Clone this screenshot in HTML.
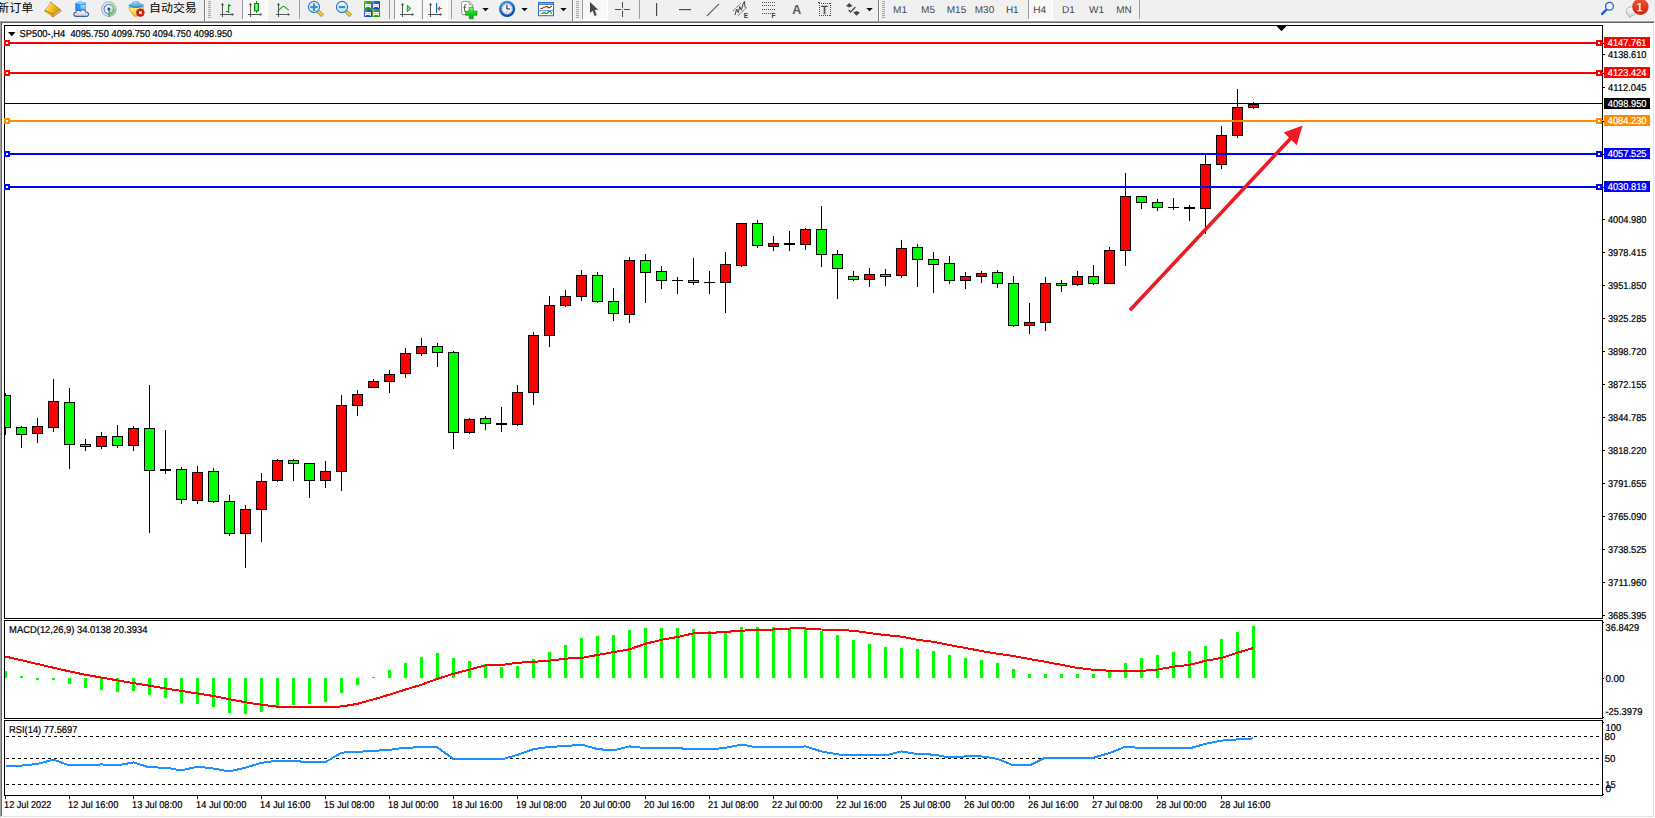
<!DOCTYPE html>
<html lang="zh"><head><meta charset="utf-8"><title>SP500-,H4</title>
<style>
html,body{margin:0;padding:0;background:#fff;}
body{width:1655px;height:818px;overflow:hidden;position:relative;font-family:"Liberation Sans","Noto Sans CJK SC",sans-serif;}
svg{position:absolute;left:0;top:0;display:block;}
.t{font-family:"Liberation Sans","Noto Sans CJK SC",sans-serif;font-size:10px;fill:#000;text-rendering:geometricPrecision;stroke:#000;stroke-width:0.22px;}
.w{fill:#fff;stroke:#fff;}
.tf{font-family:"Liberation Sans","Noto Sans CJK SC",sans-serif;font-size:10px;fill:#464646;text-rendering:geometricPrecision;}
.cj{font-family:"Liberation Sans","Noto Sans CJK SC",sans-serif;font-size:11.5px;fill:#000;}
</style></head><body>
<svg width="1655" height="818" viewBox="0 0 1655 818">
<rect x="0" y="0" width="1655" height="818" fill="#fff"/>
<g shape-rendering="crispEdges">
<rect x="0" y="0" width="1655" height="21" fill="#F0F0F0"/>
<rect x="0" y="20" width="1655" height="1" fill="#F8F8F8"/>
<rect x="0" y="21" width="1654" height="1" fill="#A0A0A0"/>
<rect x="0" y="22" width="1654" height="1" fill="#696969"/>
<rect x="0" y="21" width="1" height="796" fill="#A0A0A0"/>
<rect x="1" y="22" width="1" height="794" fill="#696969"/>
<rect x="1653" y="23" width="1" height="794" fill="#E3E3E3"/>
<rect x="2" y="816" width="1652" height="1" fill="#E3E3E3"/>
</g>
<g shape-rendering="crispEdges">
<rect x="5" y="393" width="1" height="42" fill="#000"/>
<rect x="0" y="395" width="11" height="33" fill="#000"/>
<rect x="1" y="396" width="9" height="31" fill="#00FF00"/>
<rect x="21" y="426" width="1" height="22" fill="#000"/>
<rect x="16" y="427" width="11" height="8" fill="#000"/>
<rect x="17" y="428" width="9" height="6" fill="#00FF00"/>
<rect x="37" y="418" width="1" height="25" fill="#000"/>
<rect x="32" y="426" width="11" height="8" fill="#000"/>
<rect x="33" y="427" width="9" height="6" fill="#FF0000"/>
<rect x="53" y="379" width="1" height="53" fill="#000"/>
<rect x="48" y="401" width="11" height="27" fill="#000"/>
<rect x="49" y="402" width="9" height="25" fill="#FF0000"/>
<rect x="69" y="388" width="1" height="81" fill="#000"/>
<rect x="64" y="402" width="11" height="43" fill="#000"/>
<rect x="65" y="403" width="9" height="41" fill="#00FF00"/>
<rect x="85" y="439" width="1" height="12" fill="#000"/>
<rect x="80" y="444" width="11" height="3" fill="#000"/>
<rect x="81" y="445" width="9" height="1" fill="#00FF00"/>
<rect x="101" y="432" width="1" height="17" fill="#000"/>
<rect x="96" y="436" width="11" height="11" fill="#000"/>
<rect x="97" y="437" width="9" height="9" fill="#FF0000"/>
<rect x="117" y="425" width="1" height="23" fill="#000"/>
<rect x="112" y="436" width="11" height="10" fill="#000"/>
<rect x="113" y="437" width="9" height="8" fill="#00FF00"/>
<rect x="133" y="426" width="1" height="25" fill="#000"/>
<rect x="128" y="428" width="11" height="18" fill="#000"/>
<rect x="129" y="429" width="9" height="16" fill="#FF0000"/>
<rect x="149" y="385" width="1" height="148" fill="#000"/>
<rect x="144" y="428" width="11" height="43" fill="#000"/>
<rect x="145" y="429" width="9" height="41" fill="#00FF00"/>
<rect x="165" y="430" width="1" height="44" fill="#000"/>
<rect x="160" y="469" width="11" height="2" fill="#000"/>
<rect x="181" y="467" width="1" height="37" fill="#000"/>
<rect x="176" y="469" width="11" height="31" fill="#000"/>
<rect x="177" y="470" width="9" height="29" fill="#00FF00"/>
<rect x="197" y="466" width="1" height="38" fill="#000"/>
<rect x="192" y="472" width="11" height="29" fill="#000"/>
<rect x="193" y="473" width="9" height="27" fill="#FF0000"/>
<rect x="213" y="468" width="1" height="35" fill="#000"/>
<rect x="208" y="471" width="11" height="31" fill="#000"/>
<rect x="209" y="472" width="9" height="29" fill="#00FF00"/>
<rect x="229" y="495" width="1" height="41" fill="#000"/>
<rect x="224" y="501" width="11" height="33" fill="#000"/>
<rect x="225" y="502" width="9" height="31" fill="#00FF00"/>
<rect x="245" y="505" width="1" height="63" fill="#000"/>
<rect x="240" y="509" width="11" height="25" fill="#000"/>
<rect x="241" y="510" width="9" height="23" fill="#FF0000"/>
<rect x="261" y="473" width="1" height="69" fill="#000"/>
<rect x="256" y="481" width="11" height="29" fill="#000"/>
<rect x="257" y="482" width="9" height="27" fill="#FF0000"/>
<rect x="277" y="459" width="1" height="23" fill="#000"/>
<rect x="272" y="460" width="11" height="21" fill="#000"/>
<rect x="273" y="461" width="9" height="19" fill="#FF0000"/>
<rect x="293" y="459" width="1" height="22" fill="#000"/>
<rect x="288" y="460" width="11" height="4" fill="#000"/>
<rect x="289" y="461" width="9" height="2" fill="#00FF00"/>
<rect x="309" y="463" width="1" height="35" fill="#000"/>
<rect x="304" y="463" width="11" height="18" fill="#000"/>
<rect x="305" y="464" width="9" height="16" fill="#00FF00"/>
<rect x="325" y="461" width="1" height="27" fill="#000"/>
<rect x="320" y="471" width="11" height="10" fill="#000"/>
<rect x="321" y="472" width="9" height="8" fill="#FF0000"/>
<rect x="341" y="395" width="1" height="96" fill="#000"/>
<rect x="336" y="405" width="11" height="67" fill="#000"/>
<rect x="337" y="406" width="9" height="65" fill="#FF0000"/>
<rect x="357" y="390" width="1" height="26" fill="#000"/>
<rect x="352" y="394" width="11" height="12" fill="#000"/>
<rect x="353" y="395" width="9" height="10" fill="#FF0000"/>
<rect x="373" y="379" width="1" height="9" fill="#000"/>
<rect x="368" y="381" width="11" height="7" fill="#000"/>
<rect x="369" y="382" width="9" height="5" fill="#FF0000"/>
<rect x="389" y="370" width="1" height="23" fill="#000"/>
<rect x="384" y="374" width="11" height="8" fill="#000"/>
<rect x="385" y="375" width="9" height="6" fill="#FF0000"/>
<rect x="405" y="348" width="1" height="30" fill="#000"/>
<rect x="400" y="353" width="11" height="21" fill="#000"/>
<rect x="401" y="354" width="9" height="19" fill="#FF0000"/>
<rect x="421" y="338" width="1" height="18" fill="#000"/>
<rect x="416" y="346" width="11" height="8" fill="#000"/>
<rect x="417" y="347" width="9" height="6" fill="#FF0000"/>
<rect x="437" y="343" width="1" height="24" fill="#000"/>
<rect x="432" y="346" width="11" height="7" fill="#000"/>
<rect x="433" y="347" width="9" height="5" fill="#00FF00"/>
<rect x="453" y="351" width="1" height="98" fill="#000"/>
<rect x="448" y="352" width="11" height="81" fill="#000"/>
<rect x="449" y="353" width="9" height="79" fill="#00FF00"/>
<rect x="469" y="418" width="1" height="16" fill="#000"/>
<rect x="464" y="419" width="11" height="14" fill="#000"/>
<rect x="465" y="420" width="9" height="12" fill="#FF0000"/>
<rect x="485" y="416" width="1" height="14" fill="#000"/>
<rect x="480" y="418" width="11" height="6" fill="#000"/>
<rect x="481" y="419" width="9" height="4" fill="#00FF00"/>
<rect x="501" y="407" width="1" height="25" fill="#000"/>
<rect x="496" y="423" width="11" height="2" fill="#000"/>
<rect x="517" y="385" width="1" height="41" fill="#000"/>
<rect x="512" y="392" width="11" height="33" fill="#000"/>
<rect x="513" y="393" width="9" height="31" fill="#FF0000"/>
<rect x="533" y="332" width="1" height="73" fill="#000"/>
<rect x="528" y="335" width="11" height="58" fill="#000"/>
<rect x="529" y="336" width="9" height="56" fill="#FF0000"/>
<rect x="549" y="296" width="1" height="51" fill="#000"/>
<rect x="544" y="305" width="11" height="31" fill="#000"/>
<rect x="545" y="306" width="9" height="29" fill="#FF0000"/>
<rect x="565" y="290" width="1" height="17" fill="#000"/>
<rect x="560" y="296" width="11" height="10" fill="#000"/>
<rect x="561" y="297" width="9" height="8" fill="#FF0000"/>
<rect x="581" y="270" width="1" height="31" fill="#000"/>
<rect x="576" y="275" width="11" height="22" fill="#000"/>
<rect x="577" y="276" width="9" height="20" fill="#FF0000"/>
<rect x="597" y="272" width="1" height="31" fill="#000"/>
<rect x="592" y="275" width="11" height="27" fill="#000"/>
<rect x="593" y="276" width="9" height="25" fill="#00FF00"/>
<rect x="613" y="288" width="1" height="33" fill="#000"/>
<rect x="608" y="301" width="11" height="13" fill="#000"/>
<rect x="609" y="302" width="9" height="11" fill="#00FF00"/>
<rect x="629" y="257" width="1" height="66" fill="#000"/>
<rect x="624" y="260" width="11" height="55" fill="#000"/>
<rect x="625" y="261" width="9" height="53" fill="#FF0000"/>
<rect x="645" y="254" width="1" height="49" fill="#000"/>
<rect x="640" y="260" width="11" height="13" fill="#000"/>
<rect x="641" y="261" width="9" height="11" fill="#00FF00"/>
<rect x="661" y="266" width="1" height="23" fill="#000"/>
<rect x="656" y="271" width="11" height="10" fill="#000"/>
<rect x="657" y="272" width="9" height="8" fill="#00FF00"/>
<rect x="677" y="277" width="1" height="17" fill="#000"/>
<rect x="672" y="280" width="11" height="1" fill="#000"/>
<rect x="693" y="258" width="1" height="27" fill="#000"/>
<rect x="688" y="280" width="11" height="3" fill="#000"/>
<rect x="689" y="281" width="9" height="1" fill="#00FF00"/>
<rect x="709" y="271" width="1" height="23" fill="#000"/>
<rect x="704" y="282" width="11" height="1" fill="#000"/>
<rect x="725" y="252" width="1" height="61" fill="#000"/>
<rect x="720" y="264" width="11" height="19" fill="#000"/>
<rect x="721" y="265" width="9" height="17" fill="#FF0000"/>
<rect x="741" y="223" width="1" height="44" fill="#000"/>
<rect x="736" y="223" width="11" height="43" fill="#000"/>
<rect x="737" y="224" width="9" height="41" fill="#FF0000"/>
<rect x="757" y="220" width="1" height="28" fill="#000"/>
<rect x="752" y="223" width="11" height="23" fill="#000"/>
<rect x="753" y="224" width="9" height="21" fill="#00FF00"/>
<rect x="773" y="236" width="1" height="15" fill="#000"/>
<rect x="768" y="243" width="11" height="4" fill="#000"/>
<rect x="769" y="244" width="9" height="2" fill="#FF0000"/>
<rect x="789" y="231" width="1" height="20" fill="#000"/>
<rect x="784" y="243" width="11" height="2" fill="#000"/>
<rect x="805" y="228" width="1" height="22" fill="#000"/>
<rect x="800" y="229" width="11" height="16" fill="#000"/>
<rect x="801" y="230" width="9" height="14" fill="#FF0000"/>
<rect x="821" y="206" width="1" height="61" fill="#000"/>
<rect x="816" y="229" width="11" height="26" fill="#000"/>
<rect x="817" y="230" width="9" height="24" fill="#00FF00"/>
<rect x="837" y="250" width="1" height="49" fill="#000"/>
<rect x="832" y="254" width="11" height="15" fill="#000"/>
<rect x="833" y="255" width="9" height="13" fill="#00FF00"/>
<rect x="853" y="271" width="1" height="10" fill="#000"/>
<rect x="848" y="276" width="11" height="4" fill="#000"/>
<rect x="849" y="277" width="9" height="2" fill="#00FF00"/>
<rect x="869" y="268" width="1" height="19" fill="#000"/>
<rect x="864" y="274" width="11" height="6" fill="#000"/>
<rect x="865" y="275" width="9" height="4" fill="#FF0000"/>
<rect x="885" y="269" width="1" height="17" fill="#000"/>
<rect x="880" y="274" width="11" height="3" fill="#000"/>
<rect x="881" y="275" width="9" height="1" fill="#00FF00"/>
<rect x="901" y="240" width="1" height="38" fill="#000"/>
<rect x="896" y="248" width="11" height="28" fill="#000"/>
<rect x="897" y="249" width="9" height="26" fill="#FF0000"/>
<rect x="917" y="244" width="1" height="43" fill="#000"/>
<rect x="912" y="247" width="11" height="13" fill="#000"/>
<rect x="913" y="248" width="9" height="11" fill="#00FF00"/>
<rect x="933" y="252" width="1" height="41" fill="#000"/>
<rect x="928" y="259" width="11" height="6" fill="#000"/>
<rect x="929" y="260" width="9" height="4" fill="#00FF00"/>
<rect x="949" y="256" width="1" height="28" fill="#000"/>
<rect x="944" y="263" width="11" height="18" fill="#000"/>
<rect x="945" y="264" width="9" height="16" fill="#00FF00"/>
<rect x="965" y="272" width="1" height="17" fill="#000"/>
<rect x="960" y="276" width="11" height="5" fill="#000"/>
<rect x="961" y="277" width="9" height="3" fill="#FF0000"/>
<rect x="981" y="271" width="1" height="12" fill="#000"/>
<rect x="976" y="273" width="11" height="4" fill="#000"/>
<rect x="977" y="274" width="9" height="2" fill="#FF0000"/>
<rect x="997" y="270" width="1" height="18" fill="#000"/>
<rect x="992" y="272" width="11" height="12" fill="#000"/>
<rect x="993" y="273" width="9" height="10" fill="#00FF00"/>
<rect x="1013" y="276" width="1" height="51" fill="#000"/>
<rect x="1008" y="283" width="11" height="43" fill="#000"/>
<rect x="1009" y="284" width="9" height="41" fill="#00FF00"/>
<rect x="1029" y="303" width="1" height="31" fill="#000"/>
<rect x="1024" y="322" width="11" height="4" fill="#000"/>
<rect x="1025" y="323" width="9" height="2" fill="#FF0000"/>
<rect x="1045" y="277" width="1" height="54" fill="#000"/>
<rect x="1040" y="283" width="11" height="40" fill="#000"/>
<rect x="1041" y="284" width="9" height="38" fill="#FF0000"/>
<rect x="1061" y="280" width="1" height="12" fill="#000"/>
<rect x="1056" y="283" width="11" height="3" fill="#000"/>
<rect x="1057" y="284" width="9" height="1" fill="#00FF00"/>
<rect x="1077" y="271" width="1" height="15" fill="#000"/>
<rect x="1072" y="276" width="11" height="9" fill="#000"/>
<rect x="1073" y="277" width="9" height="7" fill="#FF0000"/>
<rect x="1093" y="265" width="1" height="20" fill="#000"/>
<rect x="1088" y="276" width="11" height="8" fill="#000"/>
<rect x="1089" y="277" width="9" height="6" fill="#00FF00"/>
<rect x="1109" y="247" width="1" height="37" fill="#000"/>
<rect x="1104" y="250" width="11" height="34" fill="#000"/>
<rect x="1105" y="251" width="9" height="32" fill="#FF0000"/>
<rect x="1125" y="173" width="1" height="93" fill="#000"/>
<rect x="1120" y="196" width="11" height="55" fill="#000"/>
<rect x="1121" y="197" width="9" height="53" fill="#FF0000"/>
<rect x="1141" y="196" width="1" height="13" fill="#000"/>
<rect x="1136" y="196" width="11" height="7" fill="#000"/>
<rect x="1137" y="197" width="9" height="5" fill="#00FF00"/>
<rect x="1157" y="199" width="1" height="12" fill="#000"/>
<rect x="1152" y="202" width="11" height="6" fill="#000"/>
<rect x="1153" y="203" width="9" height="4" fill="#00FF00"/>
<rect x="1173" y="198" width="1" height="12" fill="#000"/>
<rect x="1168" y="207" width="11" height="1" fill="#000"/>
<rect x="1189" y="205" width="1" height="16" fill="#000"/>
<rect x="1184" y="207" width="11" height="2" fill="#000"/>
<rect x="1205" y="155" width="1" height="79" fill="#000"/>
<rect x="1200" y="164" width="11" height="45" fill="#000"/>
<rect x="1201" y="165" width="9" height="43" fill="#FF0000"/>
<rect x="1221" y="126" width="1" height="43" fill="#000"/>
<rect x="1216" y="135" width="11" height="30" fill="#000"/>
<rect x="1217" y="136" width="9" height="28" fill="#FF0000"/>
<rect x="1237" y="89" width="1" height="49" fill="#000"/>
<rect x="1232" y="107" width="11" height="29" fill="#000"/>
<rect x="1233" y="108" width="9" height="27" fill="#FF0000"/>
<rect x="1253" y="102" width="1" height="7" fill="#000"/>
<rect x="1248" y="104" width="11" height="4" fill="#000"/>
<rect x="1249" y="105" width="9" height="2" fill="#FF0000"/>
<rect x="2" y="26" width="2" height="592" fill="#fff"/>
<rect x="0" y="21" width="1" height="796" fill="#A0A0A0"/>
<rect x="1" y="22" width="1" height="794" fill="#696969"/>
<rect x="5" y="103" width="1597" height="1" fill="#000"/>
<rect x="4" y="42" width="1599" height="2" fill="#FF0000"/>
<rect x="4" y="72" width="1599" height="2" fill="#FF0000"/>
<rect x="4" y="120" width="1599" height="2" fill="#FF8C00"/>
<rect x="4" y="153" width="1599" height="2" fill="#0000FF"/>
<rect x="4" y="186" width="1599" height="2" fill="#0000FF"/>
</g>
<g>
<line x1="1129.9" y1="310.3" x2="1291" y2="138" stroke="#ED1C24" stroke-width="3.6"/>
<polygon points="1302.6,125.6 1283.7,132.4 1296.7,145.3" fill="#ED1C24"/>
</g>
<g shape-rendering="crispEdges">
<rect x="4" y="671" width="3" height="7" fill="#00FF00"/>
<rect x="20" y="676" width="3" height="2" fill="#00FF00"/>
<rect x="36" y="678" width="3" height="2" fill="#00FF00"/>
<rect x="52" y="678" width="3" height="2" fill="#00FF00"/>
<rect x="68" y="678" width="3" height="6" fill="#00FF00"/>
<rect x="84" y="678" width="3" height="10" fill="#00FF00"/>
<rect x="100" y="678" width="3" height="12" fill="#00FF00"/>
<rect x="116" y="678" width="3" height="14" fill="#00FF00"/>
<rect x="132" y="678" width="3" height="13" fill="#00FF00"/>
<rect x="148" y="678" width="3" height="17" fill="#00FF00"/>
<rect x="164" y="678" width="3" height="20" fill="#00FF00"/>
<rect x="180" y="678" width="3" height="25" fill="#00FF00"/>
<rect x="196" y="678" width="3" height="26" fill="#00FF00"/>
<rect x="212" y="678" width="3" height="29" fill="#00FF00"/>
<rect x="228" y="678" width="3" height="35" fill="#00FF00"/>
<rect x="244" y="678" width="3" height="36" fill="#00FF00"/>
<rect x="260" y="678" width="3" height="34" fill="#00FF00"/>
<rect x="276" y="678" width="3" height="30" fill="#00FF00"/>
<rect x="292" y="678" width="3" height="27" fill="#00FF00"/>
<rect x="308" y="678" width="3" height="26" fill="#00FF00"/>
<rect x="324" y="678" width="3" height="24" fill="#00FF00"/>
<rect x="340" y="678" width="3" height="15" fill="#00FF00"/>
<rect x="356" y="678" width="3" height="7" fill="#00FF00"/>
<rect x="372" y="677" width="3" height="1" fill="#00FF00"/>
<rect x="388" y="670" width="3" height="8" fill="#00FF00"/>
<rect x="404" y="663" width="3" height="15" fill="#00FF00"/>
<rect x="420" y="657" width="3" height="21" fill="#00FF00"/>
<rect x="436" y="653" width="3" height="25" fill="#00FF00"/>
<rect x="452" y="658" width="3" height="20" fill="#00FF00"/>
<rect x="468" y="661" width="3" height="17" fill="#00FF00"/>
<rect x="484" y="664" width="3" height="14" fill="#00FF00"/>
<rect x="500" y="667" width="3" height="11" fill="#00FF00"/>
<rect x="516" y="666" width="3" height="12" fill="#00FF00"/>
<rect x="532" y="659" width="3" height="19" fill="#00FF00"/>
<rect x="548" y="652" width="3" height="26" fill="#00FF00"/>
<rect x="564" y="645" width="3" height="33" fill="#00FF00"/>
<rect x="580" y="638" width="3" height="40" fill="#00FF00"/>
<rect x="596" y="636" width="3" height="42" fill="#00FF00"/>
<rect x="612" y="635" width="3" height="43" fill="#00FF00"/>
<rect x="628" y="630" width="3" height="48" fill="#00FF00"/>
<rect x="644" y="628" width="3" height="50" fill="#00FF00"/>
<rect x="660" y="628" width="3" height="50" fill="#00FF00"/>
<rect x="676" y="628" width="3" height="50" fill="#00FF00"/>
<rect x="692" y="629" width="3" height="49" fill="#00FF00"/>
<rect x="708" y="631" width="3" height="47" fill="#00FF00"/>
<rect x="724" y="631" width="3" height="47" fill="#00FF00"/>
<rect x="740" y="627" width="3" height="51" fill="#00FF00"/>
<rect x="756" y="627" width="3" height="51" fill="#00FF00"/>
<rect x="772" y="627" width="3" height="51" fill="#00FF00"/>
<rect x="788" y="628" width="3" height="50" fill="#00FF00"/>
<rect x="804" y="628" width="3" height="50" fill="#00FF00"/>
<rect x="820" y="631" width="3" height="47" fill="#00FF00"/>
<rect x="836" y="635" width="3" height="43" fill="#00FF00"/>
<rect x="852" y="640" width="3" height="38" fill="#00FF00"/>
<rect x="868" y="644" width="3" height="34" fill="#00FF00"/>
<rect x="884" y="647" width="3" height="31" fill="#00FF00"/>
<rect x="900" y="648" width="3" height="30" fill="#00FF00"/>
<rect x="916" y="649" width="3" height="29" fill="#00FF00"/>
<rect x="932" y="651" width="3" height="27" fill="#00FF00"/>
<rect x="948" y="655" width="3" height="23" fill="#00FF00"/>
<rect x="964" y="658" width="3" height="20" fill="#00FF00"/>
<rect x="980" y="660" width="3" height="18" fill="#00FF00"/>
<rect x="996" y="663" width="3" height="15" fill="#00FF00"/>
<rect x="1012" y="669" width="3" height="9" fill="#00FF00"/>
<rect x="1028" y="674" width="3" height="4" fill="#00FF00"/>
<rect x="1044" y="674" width="3" height="4" fill="#00FF00"/>
<rect x="1060" y="674" width="3" height="4" fill="#00FF00"/>
<rect x="1076" y="674" width="3" height="4" fill="#00FF00"/>
<rect x="1092" y="674" width="3" height="4" fill="#00FF00"/>
<rect x="1108" y="671" width="3" height="7" fill="#00FF00"/>
<rect x="1124" y="663" width="3" height="15" fill="#00FF00"/>
<rect x="1140" y="658" width="3" height="20" fill="#00FF00"/>
<rect x="1156" y="655" width="3" height="23" fill="#00FF00"/>
<rect x="1172" y="652" width="3" height="26" fill="#00FF00"/>
<rect x="1188" y="651" width="3" height="27" fill="#00FF00"/>
<rect x="1204" y="646" width="3" height="32" fill="#00FF00"/>
<rect x="1220" y="639" width="3" height="39" fill="#00FF00"/>
<rect x="1236" y="632" width="3" height="46" fill="#00FF00"/>
<rect x="1252" y="626" width="3" height="52" fill="#00FF00"/>
<rect x="2" y="621" width="2" height="97" fill="#fff"/>
</g>
<polyline fill="none" stroke="#FF0000" stroke-width="2" stroke-linejoin="round" shape-rendering="crispEdges" points="5.0,656.5 21.0,660.1 37.0,663.9 53.4,667.7 69.0,671.3 85.3,674.7 101.0,677.5 117.0,680.3 133.0,683.0 149.0,685.7 165.0,688.3 181.0,690.9 197.0,693.4 213.0,695.9 229.0,699.1 245.0,702.2 261.0,704.7 277.0,706.6 293.0,707.4 309.0,707.4 325.0,707.4 333.0,707.4 341.0,706.4 349.0,705.3 357.5,703.8 373.0,699.5 389.4,694.7 405.0,689.7 421.3,684.7 437.2,678.9 453.2,673.9 469.2,669.7 485.1,665.4 501.0,665.0 517.0,662.8 533.0,661.8 549.3,660.8 565.3,658.6 581.2,658.0 597.2,655.0 613.1,652.2 629.1,649.4 645.4,643.8 661.5,639.8 677.5,637.0 693.4,633.4 709.4,633.0 725.3,631.9 741.3,630.7 757.2,629.9 773.2,629.5 789.0,629.1 790.5,628.2 805.5,628.2 807.0,629.0 821.0,629.5 837.0,629.9 853.0,630.7 869.3,633.0 885.3,635.0 901.2,636.6 917.2,639.8 933.1,641.8 949.1,645.0 965.4,648.0 981.5,651.0 997.5,653.8 1013.4,656.0 1029.4,659.0 1045.3,661.8 1061.3,664.8 1077.2,667.9 1093.2,669.7 1109.2,670.7 1125.1,671.3 1141.0,670.9 1157.0,669.7 1173.0,666.7 1189.3,665.0 1205.3,660.8 1221.2,658.0 1237.2,652.8 1253.1,648.0"/>
<g shape-rendering="crispEdges">
<line x1="6" y1="736.5" x2="1600" y2="736.5" stroke="#000" stroke-width="1" stroke-dasharray="3,3"/>
<line x1="6" y1="758.5" x2="1600" y2="758.5" stroke="#000" stroke-width="1" stroke-dasharray="3,3"/>
<line x1="6" y1="784.5" x2="1600" y2="784.5" stroke="#000" stroke-width="1" stroke-dasharray="3,3"/>
</g>
<polyline fill="none" stroke="#1E90FF" stroke-width="2" stroke-linejoin="round" shape-rendering="crispEdges" points="5.5,765.6 21.5,765.6 37.5,763.9 53.5,759.6 69.5,765.4 85.5,765.4 101.5,764.4 117.5,765.4 133.5,762.4 149.5,767.4 165.5,767.6 181.5,770.4 197.5,766.6 213.5,768.6 229.5,771.4 245.5,767.6 261.5,762.8 277.5,760.6 293.5,760.9 309.5,762.3 325.5,762.1 341.5,752.6 357.5,751.9 373.5,750.8 389.5,749.9 405.5,747.6 421.5,747.4 437.5,747.4 453.5,759.1 469.5,758.6 485.5,758.6 501.5,759.4 517.5,754.9 533.5,749.1 549.5,746.9 565.5,746.1 581.5,744.6 597.5,749.1 613.5,750.4 629.5,746.4 645.5,748.1 661.5,748.1 677.5,748.1 693.5,749.4 709.5,749.4 725.5,747.9 741.5,744.6 757.5,747.4 773.5,747.4 789.5,747.4 805.5,746.4 821.5,751.4 837.5,754.4 853.5,755.4 869.5,755.4 885.5,755.4 901.5,751.4 917.5,754.1 933.5,754.6 949.5,757.4 965.5,756.4 981.5,756.4 997.5,758.9 1013.5,765.4 1029.5,765.4 1045.5,757.6 1061.5,757.6 1077.5,757.6 1093.5,757.6 1109.5,753.1 1125.5,746.6 1141.5,748.1 1157.5,748.4 1173.5,748.4 1189.5,748.4 1205.5,743.8 1221.5,740.6 1237.5,739.4 1253.5,738.4"/>
<g shape-rendering="crispEdges">
<rect x="4" y="25" width="1599" height="1" fill="#000"/>
<rect x="4" y="618" width="1599" height="1" fill="#000"/>
<rect x="4" y="25" width="1" height="594" fill="#000"/>
<rect x="1602" y="25" width="1" height="594" fill="#000"/>
<rect x="4" y="620" width="1599" height="1" fill="#000"/>
<rect x="4" y="718" width="1599" height="1" fill="#000"/>
<rect x="4" y="620" width="1" height="99" fill="#000"/>
<rect x="1602" y="620" width="1" height="99" fill="#000"/>
<rect x="4" y="720" width="1599" height="1" fill="#000"/>
<rect x="4" y="795" width="1599" height="1" fill="#000"/>
<rect x="4" y="720" width="1" height="76" fill="#000"/>
<rect x="1602" y="720" width="1" height="76" fill="#000"/>
<rect x="4" y="40" width="6" height="6" fill="#FF0000"/>
<rect x="6" y="42" width="2" height="2" fill="#fff"/>
<rect x="1596" y="40" width="6" height="6" fill="#FF0000"/>
<rect x="1598" y="42" width="2" height="2" fill="#fff"/>
<rect x="4" y="70" width="6" height="6" fill="#FF0000"/>
<rect x="6" y="72" width="2" height="2" fill="#fff"/>
<rect x="1596" y="70" width="6" height="6" fill="#FF0000"/>
<rect x="1598" y="72" width="2" height="2" fill="#fff"/>
<rect x="4" y="118" width="6" height="6" fill="#FF8C00"/>
<rect x="6" y="120" width="2" height="2" fill="#fff"/>
<rect x="1596" y="118" width="6" height="6" fill="#FF8C00"/>
<rect x="1598" y="120" width="2" height="2" fill="#fff"/>
<rect x="4" y="151" width="6" height="6" fill="#0000FF"/>
<rect x="6" y="153" width="2" height="2" fill="#fff"/>
<rect x="1596" y="151" width="6" height="6" fill="#0000FF"/>
<rect x="1598" y="153" width="2" height="2" fill="#fff"/>
<rect x="4" y="184" width="6" height="6" fill="#0000FF"/>
<rect x="6" y="186" width="2" height="2" fill="#fff"/>
<rect x="1596" y="184" width="6" height="6" fill="#0000FF"/>
<rect x="1598" y="186" width="2" height="2" fill="#fff"/>
</g>
<polygon points="1276.5,26 1286.5,26 1281.5,31.2" fill="#000"/>
<polygon points="8,32 15.5,32 11.75,36.2" fill="#000"/>
<g shape-rendering="crispEdges">
<rect x="5" y="796" width="1" height="3" fill="#000"/>
<rect x="69" y="796" width="1" height="3" fill="#000"/>
<rect x="133" y="796" width="1" height="3" fill="#000"/>
<rect x="197" y="796" width="1" height="3" fill="#000"/>
<rect x="261" y="796" width="1" height="3" fill="#000"/>
<rect x="325" y="796" width="1" height="3" fill="#000"/>
<rect x="389" y="796" width="1" height="3" fill="#000"/>
<rect x="453" y="796" width="1" height="3" fill="#000"/>
<rect x="517" y="796" width="1" height="3" fill="#000"/>
<rect x="581" y="796" width="1" height="3" fill="#000"/>
<rect x="645" y="796" width="1" height="3" fill="#000"/>
<rect x="709" y="796" width="1" height="3" fill="#000"/>
<rect x="773" y="796" width="1" height="3" fill="#000"/>
<rect x="837" y="796" width="1" height="3" fill="#000"/>
<rect x="901" y="796" width="1" height="3" fill="#000"/>
<rect x="965" y="796" width="1" height="3" fill="#000"/>
<rect x="1029" y="796" width="1" height="3" fill="#000"/>
<rect x="1093" y="796" width="1" height="3" fill="#000"/>
<rect x="1157" y="796" width="1" height="3" fill="#000"/>
<rect x="1221" y="796" width="1" height="3" fill="#000"/>
<rect x="1603" y="54" width="2" height="1" fill="#000"/>
<rect x="1603" y="87" width="2" height="1" fill="#000"/>
<rect x="1603" y="219" width="2" height="1" fill="#000"/>
<rect x="1603" y="252" width="2" height="1" fill="#000"/>
<rect x="1603" y="285" width="2" height="1" fill="#000"/>
<rect x="1603" y="318" width="2" height="1" fill="#000"/>
<rect x="1603" y="351" width="2" height="1" fill="#000"/>
<rect x="1603" y="384" width="2" height="1" fill="#000"/>
<rect x="1603" y="417" width="2" height="1" fill="#000"/>
<rect x="1603" y="450" width="2" height="1" fill="#000"/>
<rect x="1603" y="483" width="2" height="1" fill="#000"/>
<rect x="1603" y="516" width="2" height="1" fill="#000"/>
<rect x="1603" y="549" width="2" height="1" fill="#000"/>
<rect x="1603" y="582" width="2" height="1" fill="#000"/>
<rect x="1603" y="615" width="2" height="1" fill="#000"/>
<rect x="1603" y="622" width="1" height="1" fill="#000"/>
<rect x="1603" y="678" width="1" height="1" fill="#000"/>
<rect x="1603" y="717" width="1" height="1" fill="#000"/>
<rect x="1603" y="722" width="1" height="1" fill="#000"/>
<rect x="1603" y="794" width="1" height="1" fill="#000"/>
<rect x="1604" y="37" width="46" height="11" fill="#FF0000"/>
<rect x="1604" y="67" width="46" height="11" fill="#FF0000"/>
<rect x="1604" y="115" width="46" height="11" fill="#FF8C00"/>
<rect x="1604" y="148" width="46" height="11" fill="#0000FF"/>
<rect x="1604" y="181" width="46" height="11" fill="#0000FF"/>
<rect x="1604" y="98" width="46" height="11" fill="#000"/>
<rect x="1602" y="42" width="1" height="1" fill="#FF0000"/>
<rect x="1602" y="43" width="2" height="1" fill="#000"/>
<rect x="1602" y="72" width="1" height="1" fill="#FF0000"/>
<rect x="1602" y="73" width="2" height="1" fill="#000"/>
<rect x="1602" y="120" width="1" height="1" fill="#FF8C00"/>
<rect x="1602" y="121" width="2" height="1" fill="#000"/>
<rect x="1602" y="153" width="1" height="1" fill="#0000FF"/>
<rect x="1602" y="154" width="2" height="1" fill="#000"/>
<rect x="1602" y="186" width="1" height="1" fill="#0000FF"/>
<rect x="1602" y="187" width="2" height="1" fill="#000"/>
</g>
<text class="t" x="19.5" y="37.0" textLength="45.7" lengthAdjust="spacingAndGlyphs">SP500-,H4</text>
<text class="t" x="70.4" y="37.0" textLength="38.5" lengthAdjust="spacingAndGlyphs">4095.750</text>
<text class="t" x="111.6" y="37.0" textLength="38.5" lengthAdjust="spacingAndGlyphs">4099.750</text>
<text class="t" x="152.6" y="37.0" textLength="38.5" lengthAdjust="spacingAndGlyphs">4094.750</text>
<text class="t" x="193.7" y="37.0" textLength="38.5" lengthAdjust="spacingAndGlyphs">4098.950</text>
<text class="t" x="9.1" y="633.0" textLength="138.4" lengthAdjust="spacingAndGlyphs">MACD(12,26,9) 34.0138 20.3934</text>
<text class="t" x="9.1" y="733.0" textLength="68.3" lengthAdjust="spacingAndGlyphs">RSI(14) 77.5697</text>
<text class="t" x="4.1" y="808.0" textLength="47.2" lengthAdjust="spacingAndGlyphs">12 Jul 2022</text>
<text class="t" x="68.1" y="808.0" textLength="50.2" lengthAdjust="spacingAndGlyphs">12 Jul 16:00</text>
<text class="t" x="132.1" y="808.0" textLength="50.2" lengthAdjust="spacingAndGlyphs">13 Jul 08:00</text>
<text class="t" x="196.1" y="808.0" textLength="50.2" lengthAdjust="spacingAndGlyphs">14 Jul 00:00</text>
<text class="t" x="260.1" y="808.0" textLength="50.2" lengthAdjust="spacingAndGlyphs">14 Jul 16:00</text>
<text class="t" x="324.1" y="808.0" textLength="50.2" lengthAdjust="spacingAndGlyphs">15 Jul 08:00</text>
<text class="t" x="388.1" y="808.0" textLength="50.2" lengthAdjust="spacingAndGlyphs">18 Jul 00:00</text>
<text class="t" x="452.1" y="808.0" textLength="50.2" lengthAdjust="spacingAndGlyphs">18 Jul 16:00</text>
<text class="t" x="516.1" y="808.0" textLength="50.2" lengthAdjust="spacingAndGlyphs">19 Jul 08:00</text>
<text class="t" x="580.1" y="808.0" textLength="50.2" lengthAdjust="spacingAndGlyphs">20 Jul 00:00</text>
<text class="t" x="644.1" y="808.0" textLength="50.2" lengthAdjust="spacingAndGlyphs">20 Jul 16:00</text>
<text class="t" x="708.1" y="808.0" textLength="50.2" lengthAdjust="spacingAndGlyphs">21 Jul 08:00</text>
<text class="t" x="772.1" y="808.0" textLength="50.2" lengthAdjust="spacingAndGlyphs">22 Jul 00:00</text>
<text class="t" x="836.1" y="808.0" textLength="50.2" lengthAdjust="spacingAndGlyphs">22 Jul 16:00</text>
<text class="t" x="900.1" y="808.0" textLength="50.2" lengthAdjust="spacingAndGlyphs">25 Jul 08:00</text>
<text class="t" x="964.1" y="808.0" textLength="50.2" lengthAdjust="spacingAndGlyphs">26 Jul 00:00</text>
<text class="t" x="1028.1" y="808.0" textLength="50.2" lengthAdjust="spacingAndGlyphs">26 Jul 16:00</text>
<text class="t" x="1092.1" y="808.0" textLength="50.2" lengthAdjust="spacingAndGlyphs">27 Jul 08:00</text>
<text class="t" x="1156.1" y="808.0" textLength="50.2" lengthAdjust="spacingAndGlyphs">28 Jul 00:00</text>
<text class="t" x="1220.1" y="808.0" textLength="50.2" lengthAdjust="spacingAndGlyphs">28 Jul 16:00</text>
<text class="t" x="1608.0" y="58.0" textLength="38.4" lengthAdjust="spacingAndGlyphs">4138.610</text>
<text class="t" x="1608.0" y="91.0" textLength="38.4" lengthAdjust="spacingAndGlyphs">4112.045</text>
<text class="t" x="1608.0" y="223.0" textLength="38.4" lengthAdjust="spacingAndGlyphs">4004.980</text>
<text class="t" x="1608.0" y="256.0" textLength="38.4" lengthAdjust="spacingAndGlyphs">3978.415</text>
<text class="t" x="1608.0" y="289.0" textLength="38.4" lengthAdjust="spacingAndGlyphs">3951.850</text>
<text class="t" x="1608.0" y="322.0" textLength="38.4" lengthAdjust="spacingAndGlyphs">3925.285</text>
<text class="t" x="1608.0" y="355.0" textLength="38.4" lengthAdjust="spacingAndGlyphs">3898.720</text>
<text class="t" x="1608.0" y="388.0" textLength="38.4" lengthAdjust="spacingAndGlyphs">3872.155</text>
<text class="t" x="1608.0" y="421.0" textLength="38.4" lengthAdjust="spacingAndGlyphs">3844.785</text>
<text class="t" x="1608.0" y="454.0" textLength="38.4" lengthAdjust="spacingAndGlyphs">3818.220</text>
<text class="t" x="1608.0" y="487.0" textLength="38.4" lengthAdjust="spacingAndGlyphs">3791.655</text>
<text class="t" x="1608.0" y="520.0" textLength="38.4" lengthAdjust="spacingAndGlyphs">3765.090</text>
<text class="t" x="1608.0" y="553.0" textLength="38.4" lengthAdjust="spacingAndGlyphs">3738.525</text>
<text class="t" x="1608.0" y="586.0" textLength="38.4" lengthAdjust="spacingAndGlyphs">3711.960</text>
<text class="t" x="1608.0" y="619.0" textLength="38.4" lengthAdjust="spacingAndGlyphs">3685.395</text>
<text class="t w" x="1607.8" y="46.0" textLength="38.7" lengthAdjust="spacingAndGlyphs">4147.761</text>
<text class="t w" x="1607.8" y="76.0" textLength="38.7" lengthAdjust="spacingAndGlyphs">4123.424</text>
<text class="t w" x="1607.8" y="124.0" textLength="38.7" lengthAdjust="spacingAndGlyphs">4084.230</text>
<text class="t w" x="1607.8" y="157.0" textLength="38.7" lengthAdjust="spacingAndGlyphs">4057.525</text>
<text class="t w" x="1607.8" y="190.0" textLength="38.7" lengthAdjust="spacingAndGlyphs">4030.819</text>
<text class="t w" x="1607.8" y="107.0" textLength="38.7" lengthAdjust="spacingAndGlyphs">4098.950</text>
<text class="t" x="1605.6" y="631.0" textLength="33.5" lengthAdjust="spacingAndGlyphs">36.8429</text>
<text class="t" x="1605.4" y="682.0" textLength="19.1" lengthAdjust="spacingAndGlyphs">0.00</text>
<text class="t" x="1605.4" y="715.0" textLength="37.0" lengthAdjust="spacingAndGlyphs">-25.3979</text>
<text class="t" x="1605.6" y="731.0" textLength="15.7" lengthAdjust="spacingAndGlyphs">100</text>
<text class="t" x="1604.6" y="740.0" textLength="10.7" lengthAdjust="spacingAndGlyphs">80</text>
<text class="t" x="1604.7" y="762.0" textLength="10.8" lengthAdjust="spacingAndGlyphs">50</text>
<text class="t" x="1605.3" y="788.0" textLength="10.3" lengthAdjust="spacingAndGlyphs">15</text>
<text class="t" x="1605.5" y="792.0" textLength="5.6" lengthAdjust="spacingAndGlyphs">0</text>
<defs>
<linearGradient id="gold" x1="0" y1="0.3" x2="1" y2="0.7"><stop offset="0" stop-color="#FFE96E"/><stop offset="0.5" stop-color="#EDBE1E"/><stop offset="1" stop-color="#D09012"/></linearGradient>
<linearGradient id="cld" x1="0" y1="0" x2="0" y2="1"><stop offset="0" stop-color="#FFFFFF"/><stop offset="1" stop-color="#B9C9E6"/></linearGradient>
<linearGradient id="bx" x1="0" y1="0" x2="1" y2="0"><stop offset="0" stop-color="#1488F0"/><stop offset="1" stop-color="#53B4FF"/></linearGradient>
<linearGradient id="hat" x1="0" y1="0" x2="0" y2="1"><stop offset="0" stop-color="#7CC0EC"/><stop offset="1" stop-color="#2E7FC4"/></linearGradient>
<linearGradient id="face" x1="0" y1="0" x2="0" y2="1"><stop offset="0" stop-color="#FFF08A"/><stop offset="1" stop-color="#EDB51C"/></linearGradient>
<linearGradient id="badge" x1="0" y1="0" x2="0" y2="1"><stop offset="0" stop-color="#EC5A3A"/><stop offset="1" stop-color="#D41C08"/></linearGradient>
<linearGradient id="clk" x1="0" y1="0" x2="0.4" y2="1"><stop offset="0" stop-color="#4FB0FF"/><stop offset="0.5" stop-color="#0F6FD8"/><stop offset="1" stop-color="#0A4FA8"/></linearGradient>
<linearGradient id="cdl" x1="0" y1="0" x2="1" y2="0"><stop offset="0" stop-color="#20D030"/><stop offset="0.5" stop-color="#90FF90"/><stop offset="1" stop-color="#20D030"/></linearGradient>
<linearGradient id="lens" x1="0" y1="0" x2="0" y2="1"><stop offset="0" stop-color="#F2FBFF"/><stop offset="1" stop-color="#BFE3F7"/></linearGradient>
<linearGradient id="hnd" x1="0" y1="0" x2="1" y2="0"><stop offset="0" stop-color="#F7E25A"/><stop offset="1" stop-color="#C9960C"/></linearGradient>
<linearGradient id="tg" x1="0" y1="0" x2="1" y2="1"><stop offset="0" stop-color="#46B41E"/><stop offset="1" stop-color="#258C0A"/></linearGradient>
<linearGradient id="tb" x1="0" y1="0" x2="1" y2="1"><stop offset="0" stop-color="#3A6CE8"/><stop offset="1" stop-color="#1438B4"/></linearGradient>
<linearGradient id="plus" x1="0" y1="0" x2="0" y2="1"><stop offset="0" stop-color="#7CFF7C"/><stop offset="0.5" stop-color="#14D41C"/><stop offset="1" stop-color="#08A810"/></linearGradient>
<linearGradient id="ttl" x1="0" y1="0" x2="0" y2="1"><stop offset="0" stop-color="#8CC0F4"/><stop offset="1" stop-color="#2E6EC4"/></linearGradient>
<linearGradient id="bub" x1="0" y1="0" x2="0" y2="1"><stop offset="0" stop-color="#FFFFFF"/><stop offset="1" stop-color="#D0D0DE"/></linearGradient>
</defs>
<text class="cj" x="-2.9" y="11.9" textLength="36.3" lengthAdjust="spacingAndGlyphs">新订单</text>
<path d="M50.5,2 L60.9,10 L60.9,11.3 L52.9,17 L45,11.3 L45.2,10.2 Q49.2,6.2 50.5,2 Z" fill="#A8660C" stroke="#8E5208" stroke-width="0.5" stroke-linejoin="round"/>
<line x1="45.7" y1="11.9" x2="52.6" y2="15.9" stroke="#F2C84C" stroke-width="1.3"/>
<line x1="53.3" y1="14.8" x2="60.5" y2="9.9" stroke="#F7E9B4" stroke-width="0.9"/>
<line x1="53.3" y1="16.1" x2="60.7" y2="11" stroke="#E8CE84" stroke-width="0.7"/>
<path d="M50.6,2.4 L60,9 L52.7,13.9 L45.7,10.3 Q49.6,6.4 50.6,2.4 Z" fill="url(#gold)"/>
<path d="M50.4,3 Q49.4,6.6 46.2,10" fill="none" stroke="#FFF4B4" stroke-width="0.9" opacity="0.9"/>
<polygon points="75.2,3.2 79.5,1.3 85.9,2.6 85.9,10.5 75.2,10.5" fill="url(#bx)"/>
<polygon points="75.2,3.2 79.5,1.3 85.9,2.6 81.5,4.3" fill="#8FD0FF"/>
<rect x="80.6" y="5.4" width="4.3" height="1.1" fill="#E8F6FF"/>
<rect x="80.6" y="7.4" width="4.3" height="0.9" fill="#BFE4FF"/>
<path d="M76.2,16.4 C73.2,16.4 72.9,12.6 75.8,12.2 C76,10 79.2,9.4 80.6,11 C82,9 85.6,9.6 85.8,12 C89.2,11.8 89.6,16.4 86.4,16.4 Z" fill="url(#cld)" stroke="#3F5FA8" stroke-width="1.1"/>
<path d="M108.9,9.1 L108.9,16.5 A7.4,7.4 0 0 0 116.3,9.1 Z" fill="#5CAE5C" opacity="0.5"/>
<path d="M108.9,9.1 L116.3,9.1 A7.4,7.4 0 0 0 108.9,1.7 Z" fill="#8CC88C" opacity="0.35"/>
<path d="M108.9,1.8 A7.3,7.3 0 0 0 108.9,16.4" fill="none" stroke="#3A6CD8" stroke-width="1" opacity="0.55"/>
<path d="M108.9,1.8 A7.3,7.3 0 0 1 108.9,16.4" fill="none" stroke="#5A9A74" stroke-width="1" opacity="0.55"/>
<path d="M108.9,4.2 A4.9,4.9 0 0 0 108.9,14" fill="none" stroke="#3A6CD8" stroke-width="1.1" opacity="0.85"/>
<path d="M108.9,4.2 A4.9,4.9 0 0 1 108.9,14" fill="none" stroke="#5A9A74" stroke-width="1.1" opacity="0.85"/>
<circle cx="108.9" cy="9.1" r="2.9" fill="#F4F8FF" opacity="0.9"/>
<circle cx="108.9" cy="9.1" r="1.6" fill="#1E4CC8"/>
<rect x="108.6" y="9.5" width="1.1" height="7.2" fill="#18A020"/>
<path d="M129,7 L143.6,7 L143.2,10.5 L136.4,16.9 L133.4,15.6 L129.6,10.2 Z" fill="url(#face)" stroke="#C89A10" stroke-width="0.6"/>
<ellipse cx="136.2" cy="5.6" rx="7.8" ry="2.5" fill="url(#hat)"/>
<ellipse cx="135.9" cy="3.5" rx="3.9" ry="2.6" fill="#6AB4E6"/>
<ellipse cx="135.4" cy="2.6" rx="2.2" ry="1.1" fill="#A6D8F6" opacity="0.8"/>
<circle cx="140.4" cy="12.6" r="3.95" fill="#D42010"/>
<circle cx="140.4" cy="12.6" r="3.95" fill="none" stroke="#B01808" stroke-width="0.5"/>
<rect x="139.1" y="11.3" width="2.7" height="2.7" fill="#FFFFFF"/>
<text class="cj" x="149.1" y="11.9" textLength="47.6" lengthAdjust="spacingAndGlyphs">自动交易</text>
<rect x="204" y="0" width="1" height="21" fill="#7A7A7A"/>
<rect x="205" y="0" width="1" height="21" fill="#FBFBFB"/>
<rect x="208" y="1" width="3" height="1" fill="#A6A6A6"/>
<rect x="208" y="3" width="3" height="1" fill="#A6A6A6"/>
<rect x="208" y="5" width="3" height="1" fill="#A6A6A6"/>
<rect x="208" y="7" width="3" height="1" fill="#A6A6A6"/>
<rect x="208" y="9" width="3" height="1" fill="#A6A6A6"/>
<rect x="208" y="11" width="3" height="1" fill="#A6A6A6"/>
<rect x="208" y="13" width="3" height="1" fill="#A6A6A6"/>
<rect x="208" y="15" width="3" height="1" fill="#A6A6A6"/>
<rect x="208" y="17" width="3" height="1" fill="#A6A6A6"/>
<rect x="242" y="0" width="1" height="19" fill="#9C9C9C"/>
<rect x="243" y="0" width="24" height="19" fill="#F8F8F8"/>
<rect x="243" y="19" width="25" height="1" fill="#FFFFFF"/>
<rect x="267" y="0" width="1" height="20" fill="#FFFFFF"/>
<rect x="299" y="0" width="1" height="19" fill="#9C9C9C"/>
<rect x="389" y="0" width="1" height="19" fill="#9C9C9C"/>
<rect x="394" y="0" width="1" height="19" fill="#9C9C9C"/>
<rect x="395" y="0" width="24" height="19" fill="#F8F8F8"/>
<rect x="395" y="19" width="25" height="1" fill="#FFFFFF"/>
<rect x="419" y="0" width="1" height="20" fill="#FFFFFF"/>
<rect x="422" y="0" width="1" height="19" fill="#9C9C9C"/>
<rect x="423" y="0" width="24" height="19" fill="#F8F8F8"/>
<rect x="423" y="19" width="25" height="1" fill="#FFFFFF"/>
<rect x="447" y="0" width="1" height="20" fill="#FFFFFF"/>
<rect x="451" y="0" width="1" height="19" fill="#9C9C9C"/>
<rect x="572" y="0" width="1" height="21" fill="#7A7A7A"/>
<rect x="573" y="0" width="1" height="21" fill="#FBFBFB"/>
<rect x="576" y="1" width="3" height="1" fill="#A6A6A6"/>
<rect x="576" y="3" width="3" height="1" fill="#A6A6A6"/>
<rect x="576" y="5" width="3" height="1" fill="#A6A6A6"/>
<rect x="576" y="7" width="3" height="1" fill="#A6A6A6"/>
<rect x="576" y="9" width="3" height="1" fill="#A6A6A6"/>
<rect x="576" y="11" width="3" height="1" fill="#A6A6A6"/>
<rect x="576" y="13" width="3" height="1" fill="#A6A6A6"/>
<rect x="576" y="15" width="3" height="1" fill="#A6A6A6"/>
<rect x="576" y="17" width="3" height="1" fill="#A6A6A6"/>
<rect x="582" y="0" width="1" height="19" fill="#9C9C9C"/>
<rect x="583" y="0" width="24" height="19" fill="#F8F8F8"/>
<rect x="583" y="19" width="25" height="1" fill="#FFFFFF"/>
<rect x="607" y="0" width="1" height="20" fill="#FFFFFF"/>
<rect x="639" y="0" width="1" height="19" fill="#9C9C9C"/>
<rect x="878" y="0" width="1" height="21" fill="#7A7A7A"/>
<rect x="879" y="0" width="1" height="21" fill="#FBFBFB"/>
<rect x="882" y="1" width="3" height="1" fill="#A6A6A6"/>
<rect x="882" y="3" width="3" height="1" fill="#A6A6A6"/>
<rect x="882" y="5" width="3" height="1" fill="#A6A6A6"/>
<rect x="882" y="7" width="3" height="1" fill="#A6A6A6"/>
<rect x="882" y="9" width="3" height="1" fill="#A6A6A6"/>
<rect x="882" y="11" width="3" height="1" fill="#A6A6A6"/>
<rect x="882" y="13" width="3" height="1" fill="#A6A6A6"/>
<rect x="882" y="15" width="3" height="1" fill="#A6A6A6"/>
<rect x="882" y="17" width="3" height="1" fill="#A6A6A6"/>
<rect x="1028" y="0" width="1" height="19" fill="#9C9C9C"/>
<rect x="1029" y="0" width="23" height="19" fill="#F8F8F8"/>
<rect x="1029" y="19" width="24" height="1" fill="#FFFFFF"/>
<rect x="1052" y="0" width="1" height="20" fill="#FFFFFF"/>
<rect x="1139" y="0" width="1" height="19" fill="#9C9C9C"/>
<rect x="222" y="4" width="1" height="13" fill="#555555"/>
<rect x="220" y="14" width="13" height="1" fill="#555555"/>
<polygon points="220.9,5.2 222.5,2.8 224.1,5.2" fill="#555555"/>
<polygon points="231.8,12.9 234.2,14.5 231.8,16.1" fill="#555555"/>
<rect x="228" y="4" width="1" height="9" fill="#0E8C1A"/>
<rect x="228" y="4" width="1.2" height="9" fill="#0E8C1A"/>
<rect x="229" y="5" width="2" height="1" fill="#0E8C1A"/>
<rect x="226" y="11" width="2" height="1" fill="#0E8C1A"/>
<rect x="250" y="4" width="1" height="13" fill="#555555"/>
<rect x="248" y="14" width="13" height="1" fill="#555555"/>
<polygon points="248.9,5.2 250.5,2.8 252.1,5.2" fill="#555555"/>
<polygon points="259.8,12.9 262.2,14.5 259.8,16.1" fill="#555555"/>
<rect x="256" y="1" width="1" height="12" fill="#0A8A14"/>
<rect x="254.5" y="3.5" width="4" height="7.4" fill="url(#cdl)" stroke="#0A8A14" stroke-width="1"/>
<rect x="278" y="4" width="1" height="13" fill="#555555"/>
<rect x="276" y="14" width="13" height="1" fill="#555555"/>
<polygon points="276.9,5.2 278.5,2.8 280.1,5.2" fill="#555555"/>
<polygon points="287.8,12.9 290.2,14.5 287.8,16.1" fill="#555555"/>
<path d="M277.3,11.6 C279.6,10.6 281.2,6.4 283.4,6.3 C285.4,6.3 286.6,9.2 288.9,10" fill="none" stroke="#2C9A34" stroke-width="1.1"/>
<line x1="317.9" y1="11.2" x2="322.7" y2="15.7" stroke="#A87808" stroke-width="3.6" stroke-linecap="butt"/>
<line x1="318.1" y1="11.4" x2="322.5" y2="15.5" stroke="#F0D438" stroke-width="2.2" stroke-linecap="butt"/>
<circle cx="314" cy="7" r="5.6" fill="url(#lens)" stroke="#2A7ACC" stroke-width="1.1"/>
<rect x="310.3" y="6" width="7.4" height="2.1" fill="#3E8EB6"/>
<rect x="312.9" y="3.3" width="2.2" height="7.5" fill="#3E8EB6"/>
<line x1="345.9" y1="11.2" x2="350.7" y2="15.7" stroke="#A87808" stroke-width="3.6" stroke-linecap="butt"/>
<line x1="346.1" y1="11.4" x2="350.5" y2="15.5" stroke="#F0D438" stroke-width="2.2" stroke-linecap="butt"/>
<circle cx="342" cy="7" r="5.6" fill="url(#lens)" stroke="#2A7ACC" stroke-width="1.1"/>
<rect x="338.7" y="6" width="6.6" height="2.1" fill="#3E8EB6"/>
<rect x="364" y="1" width="8" height="8" rx="0.8" fill="url(#tg)"/>
<rect x="365.3" y="2.2" width="1" height="1" fill="#DCEBFF" opacity="0.9"/>
<path d="M365.2,4.1 h5.6 v3.9 h-0.9 v-0.9 h-3.8 v0.9 h-0.9 Z" fill="#FFFFFF"/>
<rect x="366.3" y="5.1" width="3.4" height="0.8" fill="#46B41E" opacity="0.55"/>
<rect x="372" y="1" width="8" height="8" rx="0.8" fill="url(#tb)"/>
<rect x="373.3" y="2.2" width="1" height="1" fill="#DCEBFF" opacity="0.9"/>
<path d="M373.2,4.1 h5.6 v3.9 h-0.9 v-0.9 h-3.8 v0.9 h-0.9 Z" fill="#FFFFFF"/>
<rect x="374.3" y="5.1" width="3.4" height="0.8" fill="#3A6CE8" opacity="0.55"/>
<rect x="364" y="9" width="8" height="8" rx="0.8" fill="url(#tb)"/>
<rect x="365.3" y="10.2" width="1" height="1" fill="#DCEBFF" opacity="0.9"/>
<path d="M365.2,12.1 h5.6 v3.9 h-0.9 v-0.9 h-3.8 v0.9 h-0.9 Z" fill="#FFFFFF"/>
<rect x="366.3" y="13.1" width="3.4" height="0.8" fill="#3A6CE8" opacity="0.55"/>
<rect x="372" y="9" width="8" height="8" rx="0.8" fill="url(#tg)"/>
<rect x="373.3" y="10.2" width="1" height="1" fill="#DCEBFF" opacity="0.9"/>
<path d="M373.2,12.1 h5.6 v3.9 h-0.9 v-0.9 h-3.8 v0.9 h-0.9 Z" fill="#FFFFFF"/>
<rect x="374.3" y="13.1" width="3.4" height="0.8" fill="#46B41E" opacity="0.55"/>
<rect x="402" y="4" width="1" height="13" fill="#555555"/>
<rect x="400" y="14" width="13" height="1" fill="#555555"/>
<polygon points="400.9,5.2 402.5,2.8 404.1,5.2" fill="#555555"/>
<polygon points="411.8,12.9 414.2,14.5 411.8,16.1" fill="#555555"/>
<polygon points="407.3,5.3 410.9,8.5 407.3,11.7" fill="#7CE07C" stroke="#159A1E" stroke-width="1" stroke-linejoin="round"/>
<rect x="430" y="4" width="1" height="13" fill="#555555"/>
<rect x="428" y="14" width="13" height="1" fill="#555555"/>
<polygon points="428.9,5.2 430.5,2.8 432.1,5.2" fill="#555555"/>
<polygon points="439.8,12.9 442.2,14.5 439.8,16.1" fill="#555555"/>
<rect x="436" y="3" width="1" height="10" fill="#1266B0"/>
<rect x="436" y="3" width="1.2" height="10" fill="#1266B0"/>
<polygon points="437.3,8.5 440,6 440,7.9 442,7.9 442,9.1 440,9.1 440,11" fill="#E04A08"/>
<path d="M462.6,1.5 h6.6 l3.4,3.3 v8.8 q0,1 -1,1 h-9 q-1,0 -1,-1 v-11.1 q0,-1 1,-1 Z" fill="#FBFBFB" stroke="#8C8C8C" stroke-width="0.9"/>
<path d="M469.2,1.5 v3.3 h3.4" fill="#E4E4E4" stroke="#8C8C8C" stroke-width="0.8"/>
<path d="M466.4,4.4 q-1.7,-0.4 -1.9,1.6 v5.6 M463.4,7.3 h2.6" fill="none" stroke="#5A5A32" stroke-width="0.9"/>
<path d="M469.1,7.4 h4.2 v3.7 h3.7 v4.2 h-3.7 v3.5 h-4.2 v-3.5 h-3.6 v-4.2 h3.6 Z" fill="url(#plus)" stroke="#0A8A10" stroke-width="0.6" stroke-linejoin="round"/>
<polygon points="482.3,8 488.7,8 485.5,11.3" fill="#000"/>
<circle cx="507.1" cy="8.9" r="8.1" fill="url(#clk)"/>
<circle cx="507.1" cy="8.9" r="5.4" fill="#EEF1F6"/>
<circle cx="507.1" cy="8.9" r="5.4" fill="none" stroke="#9FB4CC" stroke-width="0.7"/>
<rect x="511.15" y="8.55" width="0.7" height="0.7" fill="#8A8A8A"/>
<rect x="510.56" y="10.75" width="0.7" height="0.7" fill="#8A8A8A"/>
<rect x="508.95" y="12.36" width="0.7" height="0.7" fill="#8A8A8A"/>
<rect x="506.75" y="12.95" width="0.7" height="0.7" fill="#8A8A8A"/>
<rect x="504.55" y="12.36" width="0.7" height="0.7" fill="#8A8A8A"/>
<rect x="502.94" y="10.75" width="0.7" height="0.7" fill="#8A8A8A"/>
<rect x="502.35" y="8.55" width="0.7" height="0.7" fill="#8A8A8A"/>
<rect x="502.94" y="6.35" width="0.7" height="0.7" fill="#8A8A8A"/>
<rect x="504.55" y="4.74" width="0.7" height="0.7" fill="#8A8A8A"/>
<rect x="506.75" y="4.15" width="0.7" height="0.7" fill="#8A8A8A"/>
<rect x="508.95" y="4.74" width="0.7" height="0.7" fill="#8A8A8A"/>
<rect x="510.56" y="6.35" width="0.7" height="0.7" fill="#8A8A8A"/>
<path d="M506.9,5 v4 h3.1" fill="none" stroke="#1A1A1A" stroke-width="1"/>
<rect x="506.2" y="11.3" width="1.8" height="0.7" fill="#6CB0F0"/>
<polygon points="521.3,8 527.7,8 524.5,11.3" fill="#000"/>
<rect x="538.5" y="2.5" width="15" height="13.2" fill="#FFFFFF" stroke="#2E6EC4" stroke-width="1"/>
<rect x="539" y="3" width="14" height="2" fill="url(#ttl)"/>
<rect x="539" y="10.2" width="14" height="1" fill="#4A86D4"/>
<polyline points="540.3,8.5 542.3,8.5 543.8,7.2 545.2,7.2 546.2,6.4 547,6.4 548,7.6 549.8,7.6 550.8,6.5 552,6.3" fill="none" stroke="#A82808" stroke-width="1.1"/>
<polyline points="541.2,13.5 542.6,13.5 543.8,12.6 544.8,12.6 545.8,13.5 547,13.5 549,11.4 550,11.4 551.8,13.6" fill="none" stroke="#169A22" stroke-width="1.1"/>
<polygon points="560.3,8 566.7,8 563.5,11.3" fill="#000"/>
<polygon points="590,2 590,13.1 592.6,10.7 594.7,16 596.7,15.2 594.6,10 598.2,9.7" fill="#484848"/>
<rect x="622" y="2" width="1" height="6" fill="#4A4A4A"/><rect x="622" y="11" width="1" height="6" fill="#4A4A4A"/>
<rect x="615" y="9" width="6" height="1" fill="#4A4A4A"/><rect x="624" y="9" width="6" height="1" fill="#4A4A4A"/>
<rect x="622" y="9" width="1" height="1" fill="#8A8A6A"/>
<rect x="656" y="3" width="1.2" height="13" fill="#4A4A4A"/>
<rect x="679" y="9" width="12" height="1.2" fill="#4A4A4A"/>
<line x1="707" y1="15.9" x2="719" y2="3.9" stroke="#555" stroke-width="1.1"/>
<line x1="733" y1="10.9" x2="741" y2="2.9" stroke="#4A4A4A" stroke-width="1" stroke-dasharray="1.2,0.7"/>
<line x1="737.8" y1="15.8" x2="746.9" y2="7.4" stroke="#4A4A4A" stroke-width="1" stroke-dasharray="1.2,0.7"/>
<polyline points="735,15 736.6,9 738.2,12.6 739.8,6.6 741.4,10.2 743,4.2 744.4,1.4 745.2,7.6" fill="none" stroke="#3C3C3C" stroke-width="1"/>
<text x="743.7" y="17.8" style="font-family:'Liberation Sans',sans-serif;font-size:6.6px;font-weight:bold;fill:#3C3C3C">E</text>
<line x1="762" y1="2.5" x2="776" y2="2.5" stroke="#4A4A4A" stroke-width="1" stroke-dasharray="1,1"/>
<line x1="762" y1="5.5" x2="776" y2="5.5" stroke="#4A4A4A" stroke-width="1" stroke-dasharray="1,1"/>
<line x1="762" y1="9.5" x2="776" y2="9.5" stroke="#4A4A4A" stroke-width="1" stroke-dasharray="1,1"/>
<line x1="762" y1="13.5" x2="771" y2="13.5" stroke="#4A4A4A" stroke-width="1" stroke-dasharray="1,1"/>
<text x="771.6" y="17.8" style="font-family:'Liberation Sans',sans-serif;font-size:6.6px;font-weight:bold;fill:#3C3C3C">F</text>
<text x="792.2" y="14" style="font-family:'Liberation Sans',sans-serif;font-size:12.4px;font-weight:bold;fill:#5A5A5A">A</text>
<rect x="819" y="3" width="1" height="1" fill="#4A4A4A"/><rect x="819" y="15" width="1" height="1" fill="#4A4A4A"/>
<rect x="821" y="3" width="1" height="1" fill="#4A4A4A"/><rect x="821" y="15" width="1" height="1" fill="#4A4A4A"/>
<rect x="823" y="3" width="1" height="1" fill="#4A4A4A"/><rect x="823" y="15" width="1" height="1" fill="#4A4A4A"/>
<rect x="825" y="3" width="1" height="1" fill="#4A4A4A"/><rect x="825" y="15" width="1" height="1" fill="#4A4A4A"/>
<rect x="827" y="3" width="1" height="1" fill="#4A4A4A"/><rect x="827" y="15" width="1" height="1" fill="#4A4A4A"/>
<rect x="829" y="3" width="1" height="1" fill="#4A4A4A"/><rect x="829" y="15" width="1" height="1" fill="#4A4A4A"/>
<rect x="819" y="3" width="1" height="1" fill="#4A4A4A"/><rect x="830" y="3" width="1" height="1" fill="#4A4A4A"/>
<rect x="819" y="5" width="1" height="1" fill="#4A4A4A"/><rect x="830" y="5" width="1" height="1" fill="#4A4A4A"/>
<rect x="819" y="7" width="1" height="1" fill="#4A4A4A"/><rect x="830" y="7" width="1" height="1" fill="#4A4A4A"/>
<rect x="819" y="9" width="1" height="1" fill="#4A4A4A"/><rect x="830" y="9" width="1" height="1" fill="#4A4A4A"/>
<rect x="819" y="11" width="1" height="1" fill="#4A4A4A"/><rect x="830" y="11" width="1" height="1" fill="#4A4A4A"/>
<rect x="819" y="13" width="1" height="1" fill="#4A4A4A"/><rect x="830" y="13" width="1" height="1" fill="#4A4A4A"/>
<rect x="819" y="15" width="1" height="1" fill="#4A4A4A"/><rect x="830" y="15" width="1" height="1" fill="#4A4A4A"/>
<rect x="818" y="2" width="2" height="1" fill="#4A4A4A"/>
<text x="821.2" y="13.5" style="font-family:'Liberation Sans',sans-serif;font-size:10.6px;fill:#484848;stroke:#484848;stroke-width:0.5px">T</text>
<polygon points="849.3,3 852.6,5.9 849.3,7.6 846,5.9" fill="#484848"/>
<polygon points="856.6,15.8 859.9,12.4 856.6,11 853.3,12.4" fill="#484848"/>
<polyline points="848.6,10 850.6,12 855.4,7" fill="none" stroke="#484848" stroke-width="1.3"/>
<polygon points="866.3,8 872.7,8 869.5,11.3" fill="#000"/>
<text class="tf" x="900" y="13" text-anchor="middle">M1</text>
<text class="tf" x="928" y="13" text-anchor="middle">M5</text>
<text class="tf" x="956.5" y="13" text-anchor="middle">M15</text>
<text class="tf" x="984.5" y="13" text-anchor="middle">M30</text>
<text class="tf" x="1012.3" y="13" text-anchor="middle">H1</text>
<text class="tf" x="1039.6" y="13" text-anchor="middle">H4</text>
<text class="tf" x="1068.4" y="13" text-anchor="middle">D1</text>
<text class="tf" x="1096.6" y="13" text-anchor="middle">W1</text>
<text class="tf" x="1124" y="13" text-anchor="middle">MN</text>
<line x1="1606.4" y1="9.6" x2="1602.2" y2="13.8" stroke="#2A62D0" stroke-width="2.6" stroke-linecap="round"/>
<circle cx="1609.5" cy="6.3" r="3.9" fill="#F2F2FF" stroke="#2A62D0" stroke-width="1.3"/>
<path d="M1626.2,11.4 a4.9,4.5 0 1 1 5.6,4.4 l-2.6,1.8 l0.5,-1.9 a4.9,4.5 0 0 1 -3.5,-4.3 Z" fill="url(#bub)" stroke="#A4A4A4" stroke-width="0.8"/>
<circle cx="1640.4" cy="6.8" r="8.2" fill="url(#badge)"/>
<text x="1639.6" y="11.2" text-anchor="middle" style="font-family:'Liberation Serif',serif;font-size:13.4px;fill:#FFFFFF;stroke:#FFFFFF;stroke-width:0.25px">1</text>
</svg>
</body></html>
